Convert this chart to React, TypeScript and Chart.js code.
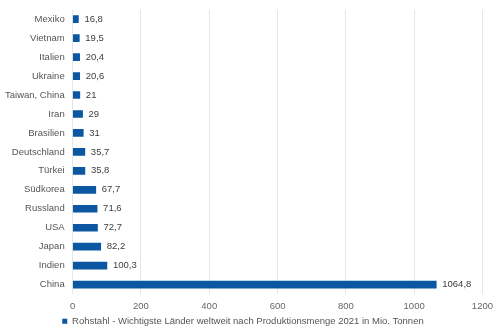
import React, { useEffect, useRef } from "react";
import { Chart, registerables } from "chart.js";

Chart.register(...registerables);

const categories = [
  "Mexiko", "Vietnam", "Italien", "Ukraine", "Taiwan, China", "Iran", "Brasilien",
  "Deutschland", "Türkei", "Südkorea", "Russland", "USA", "Japan", "Indien", "China",
];
const values = [16.8, 19.5, 20.4, 20.6, 21, 29, 31, 35.7, 35.8, 67.7, 71.6, 72.7, 82.2, 100.3, 1064.8];
const seriesLabel = "Rohstahl - Wichtigste Länder weltweit nach Produktionsmenge 2021 in Mio. Tonnen";
const xMin = 0;
const xMax = 1200;
const xStep = 200;

const FONT = "'Liberation Sans', Arial, sans-serif";
const FS = 9.5;

const valueLabels = {
  id: "valueLabels",
  afterDatasetsDraw(chart: any) {
    const ctx = chart.ctx;
    const meta = chart.getDatasetMeta(0);
    ctx.save();
    ctx.font = `${FS}px ${FONT}`;
    ctx.fillStyle = "#404040";
    ctx.textAlign = "left";
    ctx.textBaseline = "middle";
    meta.data.forEach((bar: any, i: number) => {
      const txt = String(values[i]).replace(".", ",");
      ctx.fillText(txt, bar.x + 6, bar.y);
    });
    ctx.restore();
  },
};

export default function App() {
  const ref = useRef<HTMLCanvasElement | null>(null);
  useEffect(() => {
    document.body.style.margin = "0";
    const chart = new Chart(ref.current!, {
      type: "bar",
      data: {
        labels: categories,
        datasets: [
          {
            label: seriesLabel,
            data: values,
            backgroundColor: "#0b57a2",
            borderWidth: 0,
            barThickness: 7,
          },
        ],
      },
      options: {
        indexAxis: "y",
        animation: false,
        responsive: false,
        layout: { padding: { left: 0, right: 14, top: 0, bottom: -3 } },
        plugins: {
          legend: {
            position: "bottom",
            labels: {
              boxWidth: 5,
              boxHeight: 5,
              padding: 1,
              color: "#555555",
              font: { family: FONT, size: FS },
            },
          },
          tooltip: { enabled: false },
        },
        scales: {
          x: {
            min: xMin,
            max: xMax,
            ticks: {
              stepSize: xStep,
              color: "#666666",
              font: { family: FONT, size: FS },
              padding: 7,
              callback: (v: any) => String(v),
            },
            grid: { color: "#e6e6e6", drawTicks: false },
            border: { display: false },
            afterFit: (s: any) => {
              s.height -= 4;
            },
          },
          y: {
            ticks: { color: "#555555", font: { family: FONT, size: FS }, padding: 8 },
            grid: { display: false, drawTicks: false },
            border: { display: false },
            afterFit: (s: any) => {
              s.width -= 3;
              s.paddingTop = Math.max(0, s.paddingTop - 4);
            },
          },
        },
      },
      plugins: [valueLabels],
    });
    return () => chart.destroy();
  }, []);
  return (
    <div style={{ width: 500, height: 333 }}>
      <canvas ref={ref} width={500} height={333} />
    </div>
  );
}
